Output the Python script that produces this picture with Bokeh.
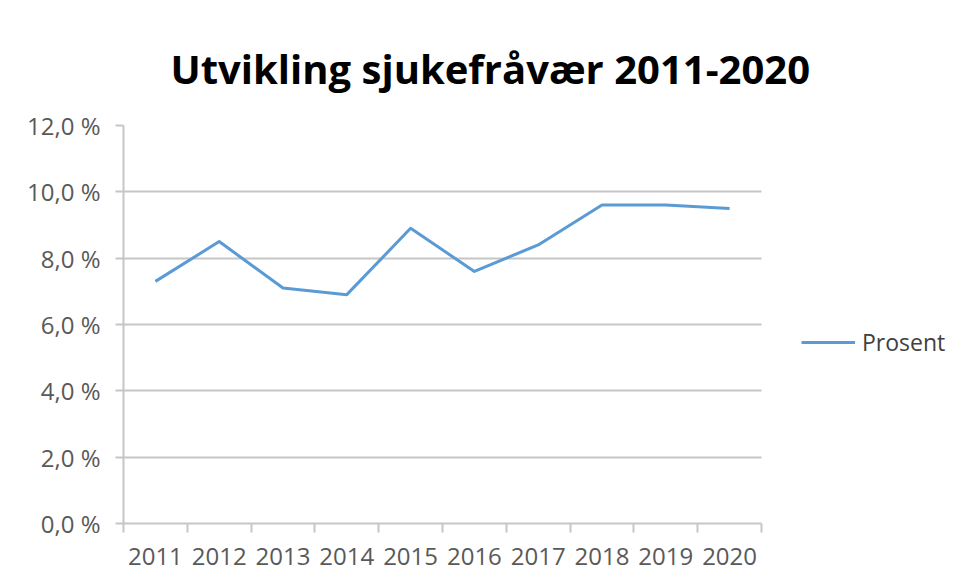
from bokeh.plotting import figure
from bokeh.models import FixedTicker, Range1d, Legend, LegendItem
from bokeh.embed import file_html
from bokeh.resources import INLINE

years = ["2011", "2012", "2013", "2014", "2015", "2016", "2017", "2018", "2019", "2020"]
prosent = [7.3, 8.5, 7.1, 6.9, 8.9, 7.6, 8.4, 9.6, 9.6, 9.5]
y_ticks = [0, 2, 4, 6, 8, 10, 12]
y_labels = ["0,0 %", "2,0 %", "4,0 %", "6,0 %", "8,0 %", "10,0 %", "12,0 %"]
series_name = "Prosent"
title_text = "Utvikling sjukefråvær 2011-2020"

FONT = "Open Sans"
GRID = "#c6c6c6"
TEXT = "#595959"

# layout (pixels)
W, H = 951, 573
LEFT, TOP, BOTTOM = 123, 125, 50
PLOT_RIGHT = 761            # right edge of the category axis
frame_w = W - LEFT
n = len(years)
px_per_cat = (PLOT_RIGHT - LEFT) / n
x_end = -0.5 + frame_w / px_per_cat

xs = list(range(n))

p = figure(width=W, height=H, output_backend="svg", toolbar_location=None,
           x_range=Range1d(-0.5, x_end), y_range=Range1d(0, 12),
           min_border_left=LEFT, min_border_right=0, min_border_top=TOP,
           min_border_bottom=BOTTOM)
p.outline_line_color = None
p.background_fill_color = "white"
p.border_fill_color = "white"

p.title.text = title_text
p.title.text_font = FONT
p.title.text_font_size = "40px"
p.title.text_font_style = "bold"
p.title.text_color = "black"
p.title.align = "left"
p.title.offset = 47
p.title.standoff = 60

r = p.line(xs, prosent, line_color="#5b9bd5", line_width=3, line_join="round")

# x axis
p.xaxis.bounds = (-0.5, n - 0.5)
p.xaxis.ticker = FixedTicker(ticks=xs, minor_ticks=[i - 0.5 for i in range(n + 1)])
p.xaxis.major_label_overrides = {i: y for i, y in enumerate(years)}
p.xaxis.major_tick_out = 0
p.xaxis.major_tick_in = 0
p.xaxis.major_tick_line_color = None
p.xaxis.minor_tick_out = 9
p.xaxis.minor_tick_in = 0
p.xaxis.minor_tick_line_color = GRID
p.xaxis.minor_tick_line_width = 2
p.xaxis.axis_line_color = GRID
p.xaxis.axis_line_width = 2
p.xaxis.major_label_text_font = FONT
p.xaxis.major_label_text_font_size = "24px"
p.xaxis.major_label_text_color = TEXT
p.xaxis.major_label_standoff = 15

# y axis
p.yaxis.ticker = FixedTicker(ticks=y_ticks, minor_ticks=[])
p.yaxis.major_label_overrides = {t: l for t, l in zip(y_ticks, y_labels)}
p.yaxis.major_tick_out = 8
p.yaxis.major_tick_in = 0
p.yaxis.major_tick_line_color = GRID
p.yaxis.major_tick_line_width = 2
p.yaxis.minor_tick_line_color = None
p.yaxis.axis_line_color = GRID
p.yaxis.axis_line_width = 2
p.yaxis.major_label_text_font = FONT
p.yaxis.major_label_text_font_size = "24px"
p.yaxis.major_label_text_color = TEXT
p.yaxis.major_label_standoff = 15

p.xgrid.grid_line_color = None
p.ygrid.ticker = FixedTicker(ticks=y_ticks)
p.ygrid.cross_bounds = (-0.5, n - 0.5)
p.ygrid.grid_line_color = GRID
p.ygrid.grid_line_width = 2

legend = Legend(items=[LegendItem(label=series_name, renderers=[r])],
                location=(PLOT_RIGHT - LEFT + 40, 165), orientation="vertical",
                padding=0, margin=0, border_line_color=None,
                background_fill_alpha=0, glyph_width=54, glyph_height=24,
                label_standoff=7, label_text_font=FONT, label_text_font_size="23px",
                label_text_color="#404040", label_height=24)
p.add_layout(legend)

open("out.html", "w").write(file_html(p, INLINE))
